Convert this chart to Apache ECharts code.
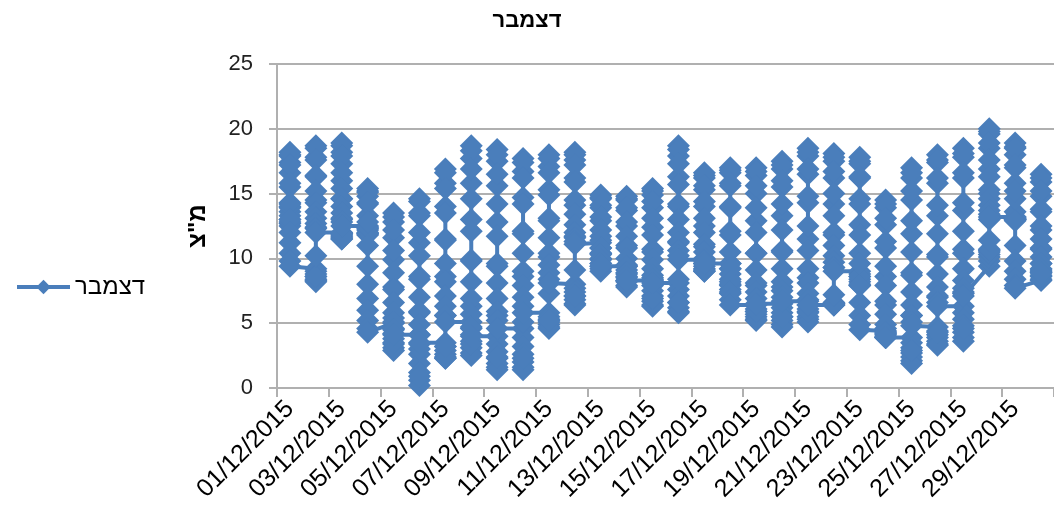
<!DOCTYPE html>
<html>
<head>
<meta charset="utf-8">
<script src="https://cdn.jsdelivr.net/npm/echarts@6/dist/echarts.min.js"></script>
<style>
  html, body { margin: 0; padding: 0; background: #ffffff; }
  #chart { width: 1054px; height: 522px; }
</style>
</head>
<body>
<div id="chart"></div>
<script>
// December 2015 — hourly temperature readings (°C), 24 per day, in time order.
const dates = [
  '01/12/2015','02/12/2015','03/12/2015','04/12/2015','05/12/2015','06/12/2015',
  '07/12/2015','08/12/2015','09/12/2015','10/12/2015','11/12/2015','12/12/2015',
  '13/12/2015','14/12/2015','15/12/2015','16/12/2015','17/12/2015','18/12/2015',
  '19/12/2015','20/12/2015','21/12/2015','22/12/2015','23/12/2015','24/12/2015',
  '25/12/2015','26/12/2015','27/12/2015','28/12/2015','29/12/2015','30/12/2015'
];

const d01 = [14.2,13.9,13.6,13.3,13.0,12.7,12.5,12.8,14.0,15.5,16.6,17.4,17.9,18.2,18.0,17.2,15.8,14.3,13.0,12.0,11.2,10.4,9.8,9.4];
const d02 = [9.2,9.0,8.8,8.6,8.4,8.3,8.2,8.6,10.2,12.4,14.5,16.3,17.8,18.7,18.5,17.6,16.4,15.2,14.3,13.6,13.1,12.7,12.3,12.0];
const d03 = [12.0,11.9,11.8,11.7,11.6,11.5,11.5,11.9,13.0,14.6,16.0,17.3,18.2,18.9,18.7,17.9,16.6,15.4,14.6,14.0,13.5,13.1,12.8,12.5];
const d04 = [12.5,12.3,12.2,12.0,11.9,11.8,11.9,12.4,13.3,14.2,14.8,15.2,15.4,15.1,14.3,12.8,11.0,9.4,8.0,6.9,6.0,5.2,4.6,4.3];
const d05 = [5.0,4.6,4.2,3.8,3.4,3.1,2.9,3.5,5.4,7.8,9.9,11.6,12.8,13.5,13.2,12.2,10.6,8.9,7.6,6.6,5.8,5.1,4.5,4.1];
const d06 = [4.1,3.4,2.6,1.9,1.2,0.6,0.2,0.9,3.0,5.8,8.6,11.2,13.3,14.6,14.4,13.5,12.0,10.2,8.4,7.0,5.9,4.9,4.1,3.5];
const d07 = [3.5,3.2,2.9,2.6,2.4,2.3,2.3,3.2,5.6,8.6,11.5,14.0,15.8,16.9,16.6,15.4,13.5,11.4,9.6,8.2,7.1,6.3,5.6,5.1];
const d08 = [5.1,4.6,4.1,3.6,3.1,2.7,2.5,3.4,6.3,9.8,13.0,15.8,17.7,18.7,18.3,16.9,14.6,12.1,9.9,8.2,6.9,5.7,4.7,4.0];
const d09 = [4.0,3.4,2.8,2.3,1.9,1.6,1.4,2.4,5.6,9.4,12.8,15.6,17.5,18.4,18.0,16.5,14.2,11.7,9.6,8.1,6.9,5.9,5.2,4.6];
const d10 = [4.6,3.9,3.2,2.6,2.0,1.6,1.4,2.3,5.1,8.6,11.9,14.7,16.7,17.7,17.4,16.2,14.2,12.1,10.4,9.0,7.9,7.0,6.3,5.8];
const d11 = [5.8,5.5,5.3,5.1,4.9,4.7,4.6,5.2,7.3,10.1,12.9,15.3,17.1,18.0,17.7,16.6,14.9,13.1,11.6,10.4,9.5,8.9,8.4,8.1];
const d12 = [8.0,7.7,7.4,7.1,6.8,6.5,6.4,7.1,9.1,11.7,14.1,16.2,17.6,18.2,18.0,17.2,15.9,14.5,13.4,12.6,12.0,11.6,11.3,11.1];
const d13 = [11.2,10.8,10.4,10.0,9.6,9.2,9.0,9.4,10.4,11.7,12.9,13.9,14.6,14.9,14.7,14.1,13.2,12.2,11.4,10.8,10.3,9.9,9.6,9.4];
const d14 = [9.4,9.1,8.8,8.5,8.2,7.9,7.8,8.3,9.5,11.0,12.5,13.7,14.5,14.8,14.6,13.9,12.8,11.7,10.8,10.0,9.4,8.9,8.6,8.3];
const d15 = [8.3,7.9,7.5,7.1,6.7,6.4,6.3,6.9,8.5,10.5,12.4,13.9,14.9,15.4,15.2,14.4,13.1,11.8,10.7,9.9,9.2,8.7,8.4,8.1];
const d16 = [8.1,7.6,7.1,6.6,6.2,5.9,5.8,6.6,8.4,11.3,14.0,16.3,17.9,18.7,18.4,17.3,15.7,14.2,13.0,12.0,11.2,10.6,10.2,9.9];
const d17 = [9.9,9.6,9.4,9.2,9.1,9.0,9.0,9.6,10.9,12.5,14.0,15.3,16.2,16.6,16.4,15.6,14.4,13.1,12.0,11.1,10.5,10.0,9.8,9.6];
const d18 = [9.6,9.2,8.8,8.4,8.0,7.6,7.3,7.9,9.6,11.8,13.9,15.6,16.6,17.0,16.8,15.8,14.0,12.1,10.5,9.2,8.2,7.4,6.8,6.4];
const d19 = [6.4,6.1,5.9,5.7,5.5,5.3,5.2,5.9,7.9,10.4,12.9,15.0,16.4,17.0,16.7,15.6,13.9,12.0,10.4,9.1,8.1,7.4,6.9,6.5];
const d20 = [6.5,6.2,5.8,5.5,5.2,4.9,4.7,5.5,7.8,10.6,13.3,15.5,16.9,17.5,17.2,16.0,14.2,12.2,10.5,9.2,8.2,7.5,7.0,6.7];
const d21 = [6.7,6.4,6.1,5.8,5.5,5.3,5.1,5.9,8.5,11.5,14.3,16.5,17.9,18.5,18.2,16.9,14.8,12.5,10.6,9.2,8.1,7.3,6.8,6.4];
const d22 = [6.4,6.5,6.6,6.5,6.5,6.4,6.4,7.2,9.3,11.8,14.2,16.2,17.5,18.1,17.8,16.7,15.0,13.3,12.0,11.0,10.2,9.7,9.3,9.0];
const d23 = [9.0,8.8,8.6,8.4,8.2,8.0,7.9,8.6,10.4,12.6,14.6,16.2,17.3,17.8,17.5,16.3,14.2,11.8,9.6,7.9,6.6,5.6,4.9,4.5];
const d24 = [4.4,4.2,4.1,4.0,3.9,3.9,3.9,4.6,6.4,8.6,10.8,12.6,13.9,14.5,14.2,13.1,11.3,9.4,7.9,6.7,5.7,4.9,4.3,3.9];
const d25 = [3.9,3.5,3.1,2.7,2.4,2.1,1.9,2.9,5.6,8.9,11.9,14.5,16.2,17.0,16.6,15.2,12.9,10.5,8.7,7.4,6.4,5.6,5.1,4.8];
const d26 = [4.7,4.4,4.1,3.9,3.6,3.4,3.3,4.3,7.0,10.3,13.3,15.8,17.4,18.0,17.6,16.2,14.1,11.9,10.1,8.8,7.8,7.1,6.6,6.3];
const d27 = [6.3,5.8,5.3,4.8,4.3,3.9,3.6,4.6,7.4,10.7,13.7,16.2,17.8,18.5,18.1,16.6,14.3,12.1,10.4,9.2,8.3,7.7,7.3,7.1];
const d28 = [9.4,9.8,10.1,10.3,10.5,10.6,10.7,11.4,13.0,15.0,16.9,18.5,19.6,20.0,19.8,18.9,17.6,16.3,15.3,14.6,14.1,13.7,13.4,13.2];
const d29 = [13.2,13.1,13.0,13.0,13.0,13.1,13.2,13.6,14.6,15.8,17.0,18.0,18.6,18.9,18.5,17.2,15.2,12.9,11.0,9.8,9.0,8.4,7.9,7.7];
const d30 = [8.3,8.4,8.6,8.7,8.9,9.0,9.1,9.6,10.8,12.2,13.6,14.8,15.9,16.5,16.2,15.2,13.8,12.5,11.5,10.7,10.1,9.6,9.2,8.9];

const days = [d01,d02,d03,d04,d05,d06,d07,d08,d09,d10,d11,d12,d13,d14,d15,
              d16,d17,d18,d19,d20,d21,d22,d23,d24,d25,d26,d27,d28,d29,d30];

const yTicks = { min: 0, max: 25, step: 5 };
const seriesName = 'דצמבר';
const unitLabel = 'מ"צ';

// every reading sits on its day's category, so a day's readings stack vertically
const points = [];
days.forEach((vals, i) => vals.forEach(v => points.push([i, v])));

const blue = '#4a7ebb';
const gridGray = '#b0b0b0';
const font = 'Liberation Sans, Arial, sans-serif';

const chart = echarts.init(document.getElementById('chart'), null, { renderer: 'canvas' });
chart.setOption({
  animation: false,
  backgroundColor: '#ffffff',
  title: {
    text: seriesName,
    left: 'center',
    top: 5,
    textStyle: { fontFamily: font, fontSize: 22, fontWeight: 'bold', color: '#000' }
  },
  legend: {
    data: [seriesName],
    left: 10,
    top: 270,
    itemWidth: 53,
    itemHeight: 18,
    itemGap: 5,
    lineStyle: { width: 4, color: blue },
    itemStyle: { color: blue },
    textStyle: { fontFamily: font, fontSize: 24, color: '#000' }
  },
  grid: { left: 277, right: 0, top: 64, bottom: 134, containLabel: false },
  xAxis: {
    type: 'category',
    data: dates,
    boundaryGap: true,
    axisLine: { show: true, lineStyle: { color: gridGray, width: 2 } },
    axisTick: { show: true, interval: 1, length: 9, lineStyle: { color: gridGray, width: 2 } },
    axisLabel: {
      interval: 1,
      rotate: 45,
      margin: 17,
      fontFamily: font,
      fontSize: 25,
      color: '#000'
    },
    splitLine: { show: false }
  },
  yAxis: {
    type: 'value',
    min: yTicks.min,
    max: yTicks.max,
    interval: yTicks.step,
    name: unitLabel,
    nameLocation: 'middle',
    nameGap: 67,
    nameTextStyle: { fontFamily: font, fontSize: 24, fontWeight: 'bold', color: '#000' },
    axisLine: { show: true, lineStyle: { color: gridGray, width: 2 } },
    axisTick: { show: true, length: 8, lineStyle: { color: gridGray, width: 2 } },
    axisLabel: { margin: 24, fontFamily: font, fontSize: 22, color: '#222' },
    splitLine: { show: true, lineStyle: { color: gridGray, width: 2 } }
  },
  series: [{
    name: seriesName,
    type: 'line',
    data: points,
    showAllSymbol: true,
    symbol: 'diamond',
    symbolSize: 23,
    sampling: null,
    lineStyle: { color: blue, width: 4 },
    itemStyle: { color: blue, borderWidth: 0 },
    emphasis: { disabled: true }
  }]
});
</script>
</body>
</html>
